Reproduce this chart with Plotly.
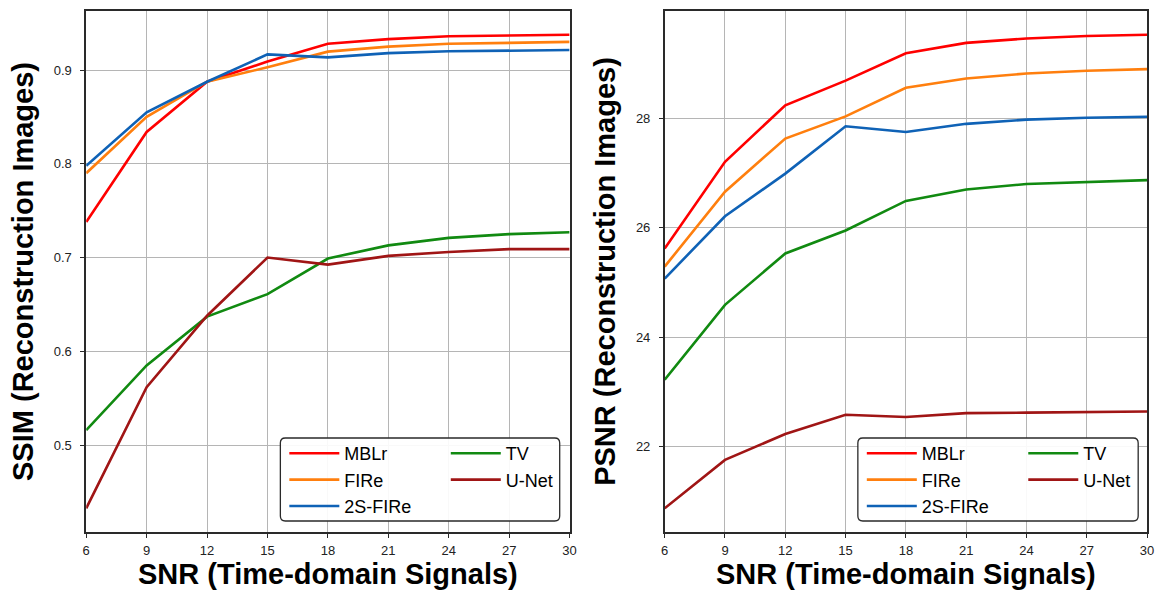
import plotly.graph_objects as go

snr = [6, 9, 12, 15, 18, 21, 24, 27, 30]
methods = ["MBLr", "FIRe", "2S-FIRe", "TV", "U-Net"]
colors = ["#ff0000", "#ff7f0e", "#0f62b6", "#118a11", "#a01515"]

ssim_mblr = [0.738, 0.834, 0.8875, 0.909, 0.928, 0.933, 0.936, 0.9367, 0.9377]
ssim_fire = [0.790, 0.850, 0.8875, 0.903, 0.9196, 0.925, 0.928, 0.929, 0.930]
ssim_2sfire = [0.798, 0.855, 0.8875, 0.9167, 0.9135, 0.918, 0.920, 0.921, 0.9213]
ssim_tv = [0.516, 0.585, 0.637, 0.661, 0.699, 0.713, 0.721, 0.725, 0.727]
ssim_unet = [0.4326, 0.5617, 0.638, 0.700, 0.6925, 0.7018, 0.706, 0.709, 0.709]

psnr_mblr = [25.62, 27.205, 28.24, 28.69, 29.19, 29.38, 29.46, 29.506, 29.53]
psnr_fire = [25.29, 26.66, 27.63, 28.036, 28.56, 28.73, 28.82, 28.87, 28.90]
psnr_2sfire = [25.07, 26.21, 26.99, 27.855, 27.75, 27.90, 27.976, 28.01, 28.03]
psnr_tv = [23.22, 24.59, 25.53, 25.95, 26.49, 26.70, 26.80, 26.84, 26.87]
psnr_unet = [20.87, 21.755, 22.23, 22.58, 22.54, 22.61, 22.62, 22.635, 22.64]

ssim_sets = [ssim_mblr, ssim_fire, ssim_2sfire, ssim_tv, ssim_unet]
psnr_sets = [psnr_mblr, psnr_fire, psnr_2sfire, psnr_tv, psnr_unet]

W, H = 1164, 593
FONT = "Liberation Sans, Arial, sans-serif"


def padded(sets):
    lo = min(min(s) for s in sets)
    hi = max(max(s) for s in sets)
    m = (hi - lo) * 0.05
    return [lo - m, hi + m]


fig = go.Figure()

# legend assignment: first column (MBLr, FIRe, 2S-FIRe), second column (TV, U-Net)
for i, (name, col) in enumerate(zip(methods, colors)):
    leg_left = "legend" if i < 3 else "legend2"
    leg_right = "legend3" if i < 3 else "legend4"
    fig.add_trace(go.Scatter(x=snr, y=ssim_sets[i], mode="lines", name=name,
                             line=dict(color=col, width=2.6),
                             xaxis="x", yaxis="y", legend=leg_left))
    fig.add_trace(go.Scatter(x=snr, y=psnr_sets[i], mode="lines", name=name,
                             line=dict(color=col, width=2.6),
                             xaxis="x2", yaxis="y2", legend=leg_right))

ax_common = dict(
    showgrid=True, gridcolor="#b5b5b5", gridwidth=1,
    showline=True, linecolor="#2a2a2a", linewidth=1.5, mirror=True,
    ticks="outside", ticklen=4, tickcolor="#2a2a2a", tickwidth=1,
    tickfont=dict(family=FONT, size=13, color="#222222"),
    zeroline=False,
)

xl = (83 / W, 571 / W)
xr = (667 / W, 1154 / W)
yd = ((H - 532) / H, (H - 11) / H)

title_font = dict(family=FONT, size=29, color="black", weight="bold")

fig.update_layout(
    width=W, height=H,
    margin=dict(l=0, r=0, t=0, b=0),
    paper_bgcolor="white", plot_bgcolor="white",
    xaxis=dict(domain=xl, range=[6, 30], tickmode="array", tickvals=snr,
               anchor="y", ticklabelstandoff=2,
               title=dict(text="SNR (Time-domain Signals)", font=title_font, standoff=6),
               **ax_common),
    yaxis=dict(domain=yd, range=padded(ssim_sets), dtick=0.1, tick0=0,
               anchor="x", ticklabelstandoff=6,
               title=dict(text="SSIM (Reconstruction Images)", font=title_font, standoff=12),
               **ax_common),
    xaxis2=dict(domain=xr, range=[6, 30], tickmode="array", tickvals=snr,
                anchor="y2", ticklabelstandoff=2,
                title=dict(text="SNR (Time-domain Signals)", font=title_font, standoff=6),
                **ax_common),
    yaxis2=dict(domain=yd, range=padded(psnr_sets), dtick=2, tick0=0,
                anchor="x2", ticklabelstandoff=6,
                title=dict(text="PSNR (Reconstruction Images)", font=title_font, standoff=12),
                **ax_common),
    showlegend=True,
)

leg_font = dict(family=FONT, size=18, color="black")
leg_base = dict(xref="paper", yref="paper", xanchor="left", yanchor="top",
                orientation="v", bgcolor="rgba(0,0,0,0)", borderwidth=0,
                font=leg_font, tracegroupgap=0, itemwidth=50)

top_y = (H - 435) / H
fig.update_layout(
    legend=dict(x=283 / W, y=top_y, **leg_base),
    legend2=dict(x=446 / W, y=top_y, **leg_base),
    legend3=dict(x=866 / W, y=top_y, **leg_base),
    legend4=dict(x=1029 / W, y=top_y, **leg_base),
)


def rounded_box(x0, y0, x1, y1, r=5):
    # pixel coordinates (y down) -> paper path
    def px(x):
        return x / W

    def py(y):
        return (H - y) / H
    p = (f"M {px(x0 + r)},{py(y0)} L {px(x1 - r)},{py(y0)} "
         f"Q {px(x1)},{py(y0)} {px(x1)},{py(y0 + r)} "
         f"L {px(x1)},{py(y1 - r)} Q {px(x1)},{py(y1)} {px(x1 - r)},{py(y1)} "
         f"L {px(x0 + r)},{py(y1)} Q {px(x0)},{py(y1)} {px(x0)},{py(y1 - r)} "
         f"L {px(x0)},{py(y0 + r)} Q {px(x0)},{py(y0)} {px(x0 + r)},{py(y0)} Z")
    return dict(type="path", path=p, xref="paper", yref="paper",
                line=dict(color="#2a2a2a", width=1.3),
                fillcolor="rgba(255,255,255,0.92)", layer="above")


fig.update_layout(shapes=[rounded_box(279, 438, 561, 521),
                          rounded_box(862, 438, 1145, 521)])

fig.write_html("out.html")
